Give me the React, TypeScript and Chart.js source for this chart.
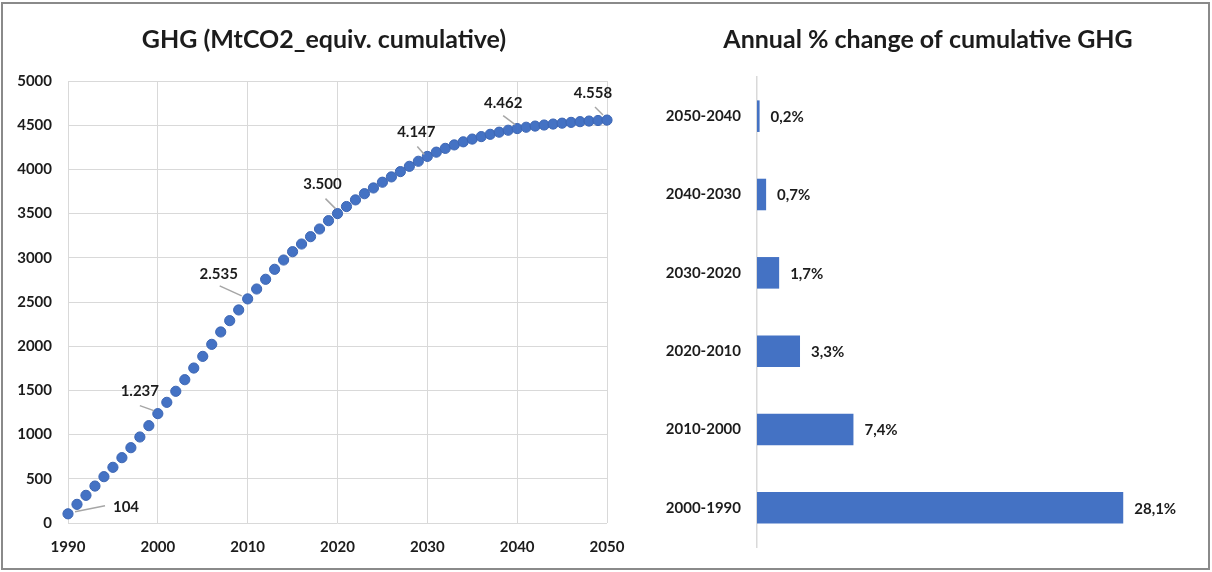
import React, { useEffect, useRef } from "react";
import { Chart, registerables } from "chart.js";

Chart.register(...registerables);

// Cumulative GHG emissions (MtCO2 equiv.), one value per year starting 1990
const firstYear = 1990;
const cumulativeGhg = [
  104, 211, 313, 418, 524, 630, 739, 852, 973, 1101, 1237,
  1365, 1490, 1621, 1753, 1885, 2021, 2161, 2289, 2410, 2535,
  2647, 2757, 2870, 2975, 3069, 3156, 3239, 3326, 3420, 3500,
  3580, 3655, 3725, 3790, 3855, 3915, 3975, 4035, 4092, 4147,
  4195, 4238, 4277, 4312, 4343, 4371, 4397, 4421, 4443, 4462,
  4477, 4490, 4502, 4513, 4523, 4532, 4540, 4547, 4553, 4558,
];
const labelledYears = [1990, 2000, 2010, 2020, 2030, 2040, 2050];

// Annual % change of cumulative GHG per decade
const periods = ["2050-2040", "2040-2030", "2030-2020", "2020-2010", "2010-2000", "2000-1990"];
const annualChange = [0.2, 0.7, 1.7, 3.3, 7.4, 28.1];

const FONT = "Lato, 'Noto Sans', sans-serif";
const TEXT = "#1c1c1c";
const GRID = "#d9d9d9";
const BLUE = "#4472C4";

// label placement for the annotated points: label centre and leader line, relative to the point
const calloutOffsets: Record<number, { dx: number; dy: number; l: [number, number, number, number] }> = {
  1990: { dx: 58, dy: -7, l: [7, -2, 37, -8] },
  2000: { dx: -18, dy: -22, l: [-18, -8, -4, -3] },
  2010: { dx: -29, dy: -25, l: [-28, -13, -6, -3] },
  2020: { dx: -15, dy: -29, l: [-12, -15, -2, -5] },
  2030: { dx: -11, dy: -24, l: [-10, -10, -3, -2] },
  2040: { dx: -14, dy: -25, l: [-14, -13, -2, -4] },
  2050: { dx: -14, dy: -27, l: [-12, -13, -4, -5] },
};

const thousands = (v: number) => {
  const s = String(Math.round(v));
  return s.replace(/\B(?=(\d{3})+(?!\d))/g, ".");
};

const headingPlugin = {
  id: "heading",
  afterDraw(chart: any, _args: any, opts: any) {
    const { ctx } = chart;
    ctx.save();
    ctx.font = `bold ${opts.size}px ${FONT}`;
    ctx.fillStyle = TEXT;
    ctx.textAlign = "center";
    ctx.textBaseline = "middle";
    ctx.fillText(opts.text, opts.x, opts.y);
    ctx.restore();
  },
};

const calloutPlugin = {
  id: "callouts",
  afterDatasetsDraw(chart: any) {
    const { ctx } = chart;
    const meta = chart.getDatasetMeta(0);
    const ds = chart.data.datasets[0].data as { x: number; y: number }[];
    ctx.save();
    labelledYears.forEach((yr) => {
      const idx = ds.findIndex((p) => p.x === yr);
      if (idx < 0) return;
      const el = meta.data[idx];
      const o = calloutOffsets[yr];
      ctx.strokeStyle = "#a6a6a6";
      ctx.lineWidth = 1.5;
      ctx.beginPath();
      ctx.moveTo(el.x + o.l[0], el.y + o.l[1]);
      ctx.lineTo(el.x + o.l[2], el.y + o.l[3]);
      ctx.stroke();
      ctx.font = `bold 15px ${FONT}`;
      ctx.fillStyle = TEXT;
      ctx.textAlign = "center";
      ctx.textBaseline = "middle";
      ctx.fillText(thousands(ds[idx].y), el.x + o.dx, el.y + o.dy);
    });
    ctx.restore();
  },
};

const barValuePlugin = {
  id: "barValues",
  afterDatasetsDraw(chart: any) {
    const { ctx } = chart;
    const meta = chart.getDatasetMeta(0);
    const vals = chart.data.datasets[0].data as number[];
    ctx.save();
    ctx.font = `bold 15px ${FONT}`;
    ctx.fillStyle = TEXT;
    ctx.textAlign = "left";
    ctx.textBaseline = "middle";
    meta.data.forEach((bar: any, i: number) => {
      ctx.fillText(vals[i].toFixed(1).replace(".", ",") + "%", bar.x + 11, bar.y + 1);
    });
    ctx.restore();
  },
};

function CumulativeChart() {
  const ref = useRef<HTMLCanvasElement>(null);
  useEffect(() => {
    if (!ref.current) return;
    const points = cumulativeGhg.map((v, i) => ({ x: firstYear + i, y: v }));
    const chart = new Chart(ref.current, {
      type: "scatter",
      data: {
        datasets: [
          {
            data: points,
            backgroundColor: BLUE,
            borderColor: "#3d66b3",
            borderWidth: 1,
            pointRadius: 5.1,
            showLine: false,
            clip: false,
          },
        ],
      },
      options: {
        animation: false,
        responsive: false,
        events: [],
        layout: { padding: { top: 81, right: 33, bottom: 0, left: 0 } },
        plugins: {
          legend: { display: false },
          tooltip: { enabled: false },
          heading: { text: "GHG (MtCO2_equiv. cumulative)", x: 324, y: 40, size: 25 },
        } as any,
        scales: {
          x: {
            type: "linear",
            min: 1990,
            max: 2050,
            ticks: {
              stepSize: 10,
              padding: 15,
              color: TEXT,
              font: { family: FONT, size: 15, weight: "bold" },
              callback: (v: any) => String(v),
            },
            grid: { color: GRID, lineWidth: 1, drawTicks: false },
            border: { display: false },
            afterFit: (s: any) => {
              s.height = 49;
            },
          },
          y: {
            min: 0,
            max: 5000,
            ticks: {
              stepSize: 500,
              padding: 16,
              color: TEXT,
              font: { family: FONT, size: 15, weight: "bold" },
              callback: (v: any) => String(v),
            },
            grid: { color: GRID, lineWidth: 1, drawTicks: false },
            border: { display: false },
            afterFit: (s: any) => {
              s.width = 68;
            },
          },
        },
      },
      plugins: [headingPlugin, calloutPlugin],
    });
    return () => chart.destroy();
  }, []);
  return (
    <canvas
      ref={ref}
      width={640}
      height={572}
      style={{ position: "absolute", left: 0, top: 0, width: 640, height: 572 }}
    />
  );
}

function ChangeChart() {
  const ref = useRef<HTMLCanvasElement>(null);
  useEffect(() => {
    if (!ref.current) return;
    const chart = new Chart(ref.current, {
      type: "bar",
      data: {
        labels: periods,
        datasets: [
          {
            data: annualChange,
            backgroundColor: BLUE,
            borderWidth: 0,
            categoryPercentage: 1,
            barPercentage: 0.403,
          },
        ],
      },
      options: {
        indexAxis: "y",
        animation: false,
        responsive: false,
        events: [],
        layout: { padding: { top: 77, right: 64, bottom: 25, left: 0 } },
        plugins: {
          legend: { display: false },
          tooltip: { enabled: false },
          heading: { text: "Annual % change of cumulative GHG", x: 308, y: 40, size: 25 },
        } as any,
        scales: {
          x: { min: 0, max: 30, display: false },
          y: {
            ticks: {
              padding: 16,
              color: TEXT,
              font: { family: FONT, size: 15, weight: "bold" },
            },
            grid: { display: false, drawTicks: false },
            border: { display: true, color: GRID, width: 1.5 },
            afterFit: (s: any) => {
              s.width = 137;
            },
          },
        },
      },
      plugins: [headingPlugin, barValuePlugin],
    });
    return () => chart.destroy();
  }, []);
  return (
    <canvas
      ref={ref}
      width={592}
      height={572}
      style={{ position: "absolute", left: 620, top: 0, width: 592, height: 572 }}
    />
  );
}

export default function App() {
  return (
    <div
      style={{
        position: "fixed",
        left: 0,
        top: 0,
        width: 1212,
        height: 572,
        background: "#ffffff",
        overflow: "hidden",
      }}
    >
      <div
        style={{
          position: "absolute",
          left: 1,
          top: 2,
          width: 1209,
          height: 568,
          boxSizing: "border-box",
          border: "2px solid #8a8a8a",
        }}
      />
      <CumulativeChart />
      <ChangeChart />
    </div>
  );
}
